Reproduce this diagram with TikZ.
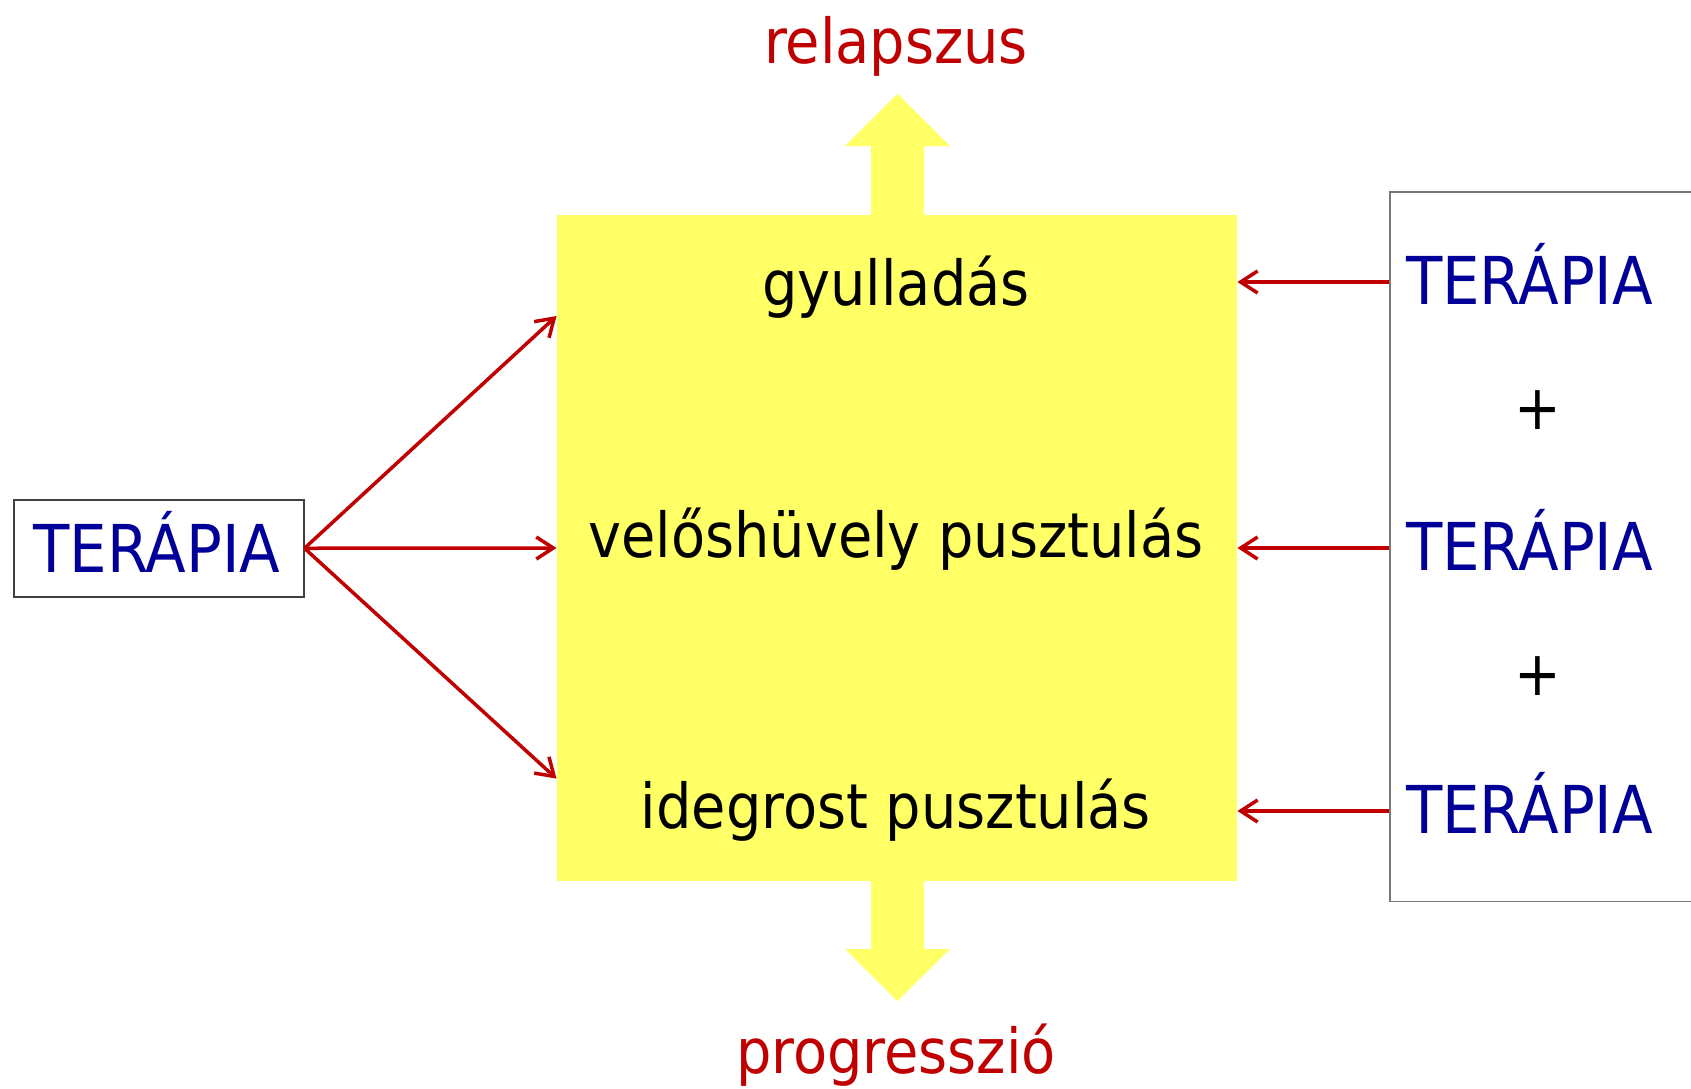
\documentclass[tikz,border=0pt]{standalone}
\usepackage{fontspec}
\setmainfont{DejaVu Sans Condensed}
\usetikzlibrary{arrows.meta}
\definecolor{tblue}{RGB}{0,0,153}
\definecolor{tred}{RGB}{192,0,0}
\definecolor{tyellow}{RGB}{255,255,102}
\definecolor{lgray}{RGB}{64,64,64}
\definecolor{rgray}{RGB}{120,120,120}
\begin{document}
\begin{tikzpicture}[x=1pt,y=-1pt,
  big/.style={font=\fontsize{62}{70}\selectfont, inner sep=0pt, anchor=base},
  ter/.style={font=\fontsize{66}{74}\selectfont, text=tblue, inner sep=0pt, anchor=base},
  redtxt/.style={big, text=tred},
  plussign/.style={font=\fontsize{62}{70}\selectfont, inner sep=0pt, anchor=center},
  rarrow/.style={draw=tred, line width=3.5pt, -{Straight Barb[length=17pt,width=22pt,line width=3.5pt]}},
  fatarrow/.style={fill=tyellow}]
\useasboundingbox (0,0) rectangle (1691,1088);
\fill[white] (0,0) rectangle (1691,1088);
% main yellow box
\node[fill=tyellow, minimum width=680.5pt, minimum height=666.4pt, inner sep=0pt, anchor=north west] (main) at (556.5,214.6) {};
% fat arrows
\fill[fatarrow] (871,216) -- (871,146) -- (845,146) -- (897.5,94) -- (950,146) -- (924,146) -- (924,216) -- cycle;
\fill[fatarrow] (871,880) -- (871,949) -- (845,949) -- (897.5,1001) -- (950,949) -- (924,949) -- (924,880) -- cycle;
% labels
\node[redtxt] (relap) at (896,63) {relapszus};
\node[redtxt] (progr) at (896,1073) {progresszió};
\node[big] (gyull) at (896,305) {gyulladás};
\node[big] (velo) at (896,557) {velőshüvely pusztulás};
\node[big] (ideg) at (896,828) {idegrost pusztulás};
% left box
\node[draw=lgray, line width=1.5pt, minimum width=290pt, minimum height=97pt, inner sep=0pt, anchor=north west] (lbox) at (13,499) {};
\node[ter] (lter) at (157,572) {TERÁPIA};
% right box
\node[draw=rgray, line width=1.5pt, minimum width=330pt, minimum height=709.5pt, inner sep=0pt, anchor=north west] (rbox) at (1389,191) {};
\node[ter] (rter1) at (1529.5,304) {TERÁPIA};
\node[plussign] (plus1) at (1537.5,410) {+};
\node[ter] (rter2) at (1529.5,570) {TERÁPIA};
\node[plussign] (plus2) at (1537.5,676) {+};
\node[ter] (rter3) at (1529.5,833) {TERÁPIA};
% rows
\coordinate (row1) at (0,282);
\coordinate (row2) at (0,548);
\coordinate (row3) at (0,811);
\coordinate (lrow1) at (0,316);
\coordinate (lrow3) at (0,778.6);
% arrows
\draw[rarrow] (rbox.west |- row1) -- (main.east |- row1);
\draw[rarrow] (rbox.west |- row2) -- (main.east |- row2);
\draw[rarrow] (rbox.west |- row3) -- (main.east |- row3);
\draw[rarrow] (lbox.east) -- (main.west |- lrow1);
\draw[rarrow] (lbox.east) -- (main.west |- row2);
\draw[rarrow] (lbox.east) -- (main.west |- lrow3);
\end{tikzpicture}
\end{document}
